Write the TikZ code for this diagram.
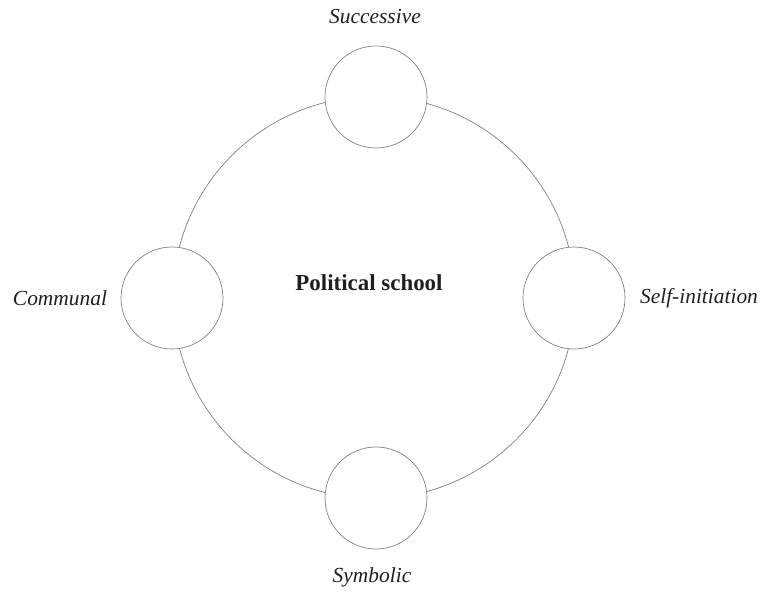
\documentclass[tikz,border=0pt]{standalone}
\usepackage{fontspec}
\setmainfont{Liberation Serif}
\begin{document}
\begin{tikzpicture}[x=1bp,y=-1bp,
  ring/.style={draw=black!50,line width=0.7bp},
  small/.style={circle,draw=black!50,line width=0.7bp,fill=white,minimum size=102bp,inner sep=0pt},
  lbl/.style={font=\fontsize{21.5}{24}\selectfont\itshape,text=black!88,inner sep=0pt},
  title/.style={font=\fontsize{23}{26}\selectfont\bfseries,text=black!88,inner sep=0pt}]
\useasboundingbox (0,0) rectangle (767,593);
\coordinate (c) at (374,297.5);
\draw[ring] (c) circle[radius=201bp];
\node[small] (top) at (376,97) {};
\node[small] (left) at (172,298) {};
\node[small] (right) at (574,298) {};
\node[small] (bottom) at (376,498) {};
\node[title] (center) at (369,283) {Political school};
\node[lbl] (t1) at (375,17) {Successive};
\node[lbl] (t2) at (60,298) {Communal};
\node[lbl] (t3) at (699,298) {Self-initiation};
\node[lbl] (t4) at (372,577) {Symbolic};
\end{tikzpicture}
\end{document}
